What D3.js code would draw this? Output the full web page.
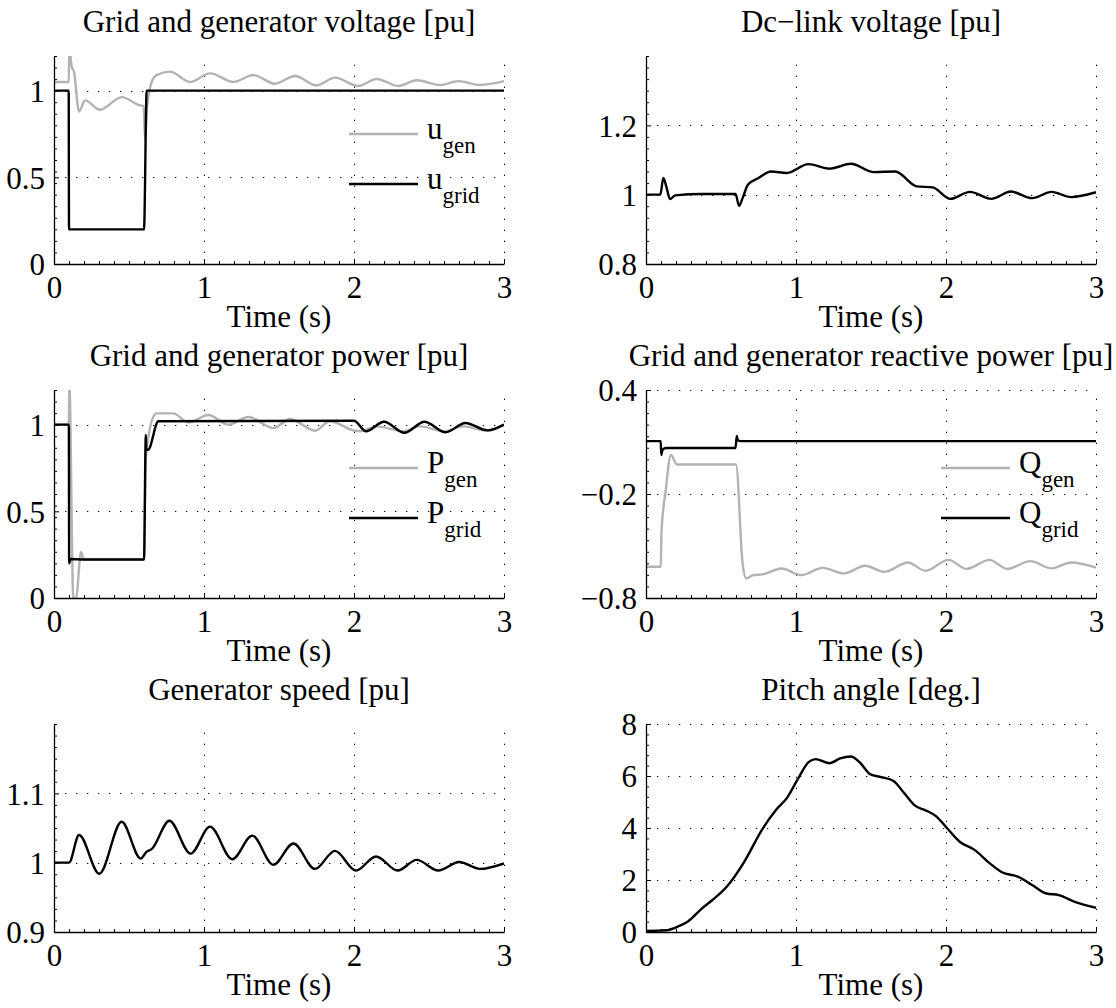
<!DOCTYPE html>
<html><head><meta charset="utf-8">
<script src="https://cdn.jsdelivr.net/npm/d3@7"></script>
<style>
body{margin:0;background:#fff}
text{font-family:"Liberation Serif","Times New Roman",serif;fill:#000}
</style>
</head><body>
<svg id="c" width="1116" height="1008" xmlns="http://www.w3.org/2000/svg"></svg>
<script>
// ---------------- data ----------------
const timeTicks = [0, 1, 2, 3];
const timeTickLabels = ["0", "1", "2", "3"];

// Grid and generator voltage
const voltageTicks = [0, 0.5, 1];
const voltageTickLabels = ["0", "0.5", "1"];
const uGenT = [0, 0.098, 0.102, 0.118, 0.133, 0.167, 0.207, 0.307, 0.451, 0.573, 0.598, 0.607, 0.618, 0.651, 0.684, 0.773, 0.907, 1.04, 1.196, 1.329, 1.473, 1.607, 1.751, 1.873, 2.029, 2.151, 2.296, 2.418, 2.573, 2.696, 2.84, 3.0];
const uGenV = [1.05, 1.05, 1.25, 1.14, 1.11, 0.88, 0.944, 0.89, 0.963, 0.915, 0.91, 0.72, 0.88, 1.05, 1.09, 1.11, 1.05, 1.1, 1.05, 1.09, 1.04, 1.085, 1.03, 1.075, 1.027, 1.067, 1.027, 1.06, 1.033, 1.055, 1.033, 1.055];
const uGridT = [0, 0.098, 0.1, 0.6, 0.618, 3.0];
const uGridV = [1, 1, 0.2, 0.2, 1, 1];

// Dc-link voltage
const dcTicks = [0.8, 1, 1.2];
const dcTickLabels = ["0.8", "1", "1.2"];
const dcT = [0, 0.095, 0.116, 0.135, 0.16, 0.194, 0.372, 0.597, 0.62, 0.644, 0.68, 0.75, 0.833, 0.94, 1.082, 1.224, 1.366, 1.52, 1.662, 1.804, 1.911, 2.029, 2.16, 2.302, 2.432, 2.574, 2.704, 2.834, 3.0];
const dcV = [1.0, 1.0, 1.048, 1.024, 0.987, 0.998, 1.002, 1.002, 0.968, 0.99, 1.029, 1.048, 1.067, 1.0625, 1.088, 1.075, 1.089, 1.065, 1.067, 1.024, 1.021, 0.988, 1.008, 0.988, 1.009, 0.990, 1.008, 0.993, 1.007];

// Grid and generator power
const powerTicks = [0, 0.5, 1];
const powerTickLabels = ["0", "0.5", "1"];
const pGenT = [0, 0.099, 0.102, 0.129, 0.147, 0.18, 0.2, 0.6, 0.612, 0.64, 0.673, 0.684, 0.795, 0.895, 1.029, 1.162, 1.296, 1.462, 1.573, 1.74, 1.84, 1.996, 2.04, 2.151, 2.33, 2.44, 2.6, 2.73, 2.89, 3.0];
const pGenV = [1.0, 1.0, 1.25, 0.0, 0.0, 0.266, 0.222, 0.222, 0.8, 0.98, 1.06, 1.065, 1.065, 1.013, 1.056, 1.0, 1.044, 0.98, 1.033, 0.965, 1.02, 0.967, 0.962, 0.99, 0.962, 0.99, 0.962, 0.99, 0.965, 1.0];
const pGridT = [0, 0.099, 0.101, 0.11, 0.2, 0.6, 0.612, 0.616, 0.627, 0.696, 2.0, 2.08, 2.2, 2.336, 2.47, 2.61, 2.743, 2.89, 3.0];
const pGridV = [1.0, 1.0, 0.2, 0.225, 0.222, 0.222, 0.94, 0.86, 0.855, 1.02, 1.023, 0.962, 1.017, 0.953, 1.017, 0.956, 1.01, 0.967, 1.0];

// Grid and generator reactive power
const reactiveTicks = [-0.8, -0.2, 0.4];
const reactiveTickLabels = ["\u22120.8", "\u22120.2", "0.4"];
const qGenT = [0, 0.099, 0.103, 0.13, 0.166, 0.207, 0.6, 0.644, 0.668, 0.715, 0.774, 0.905, 1.035, 1.177, 1.319, 1.461, 1.591, 1.745, 1.864, 2.017, 2.136, 2.29, 2.408, 2.562, 2.704, 2.834, 3.0];
const qGenV = [-0.62, -0.62, -0.42, -0.19, 0.025, -0.03, -0.03, -0.6, -0.687, -0.668, -0.664, -0.63, -0.668, -0.626, -0.658, -0.614, -0.649, -0.595, -0.643, -0.58, -0.632, -0.58, -0.632, -0.587, -0.629, -0.595, -0.624];
const qGridT = [0, 0.098, 0.102, 0.11, 0.135, 0.597, 0.605, 0.612, 0.63, 3.0];
const qGridV = [0.105, 0.105, 0.025, 0.055, 0.065, 0.065, 0.135, 0.11, 0.105, 0.105];

// Generator speed
const speedTicks = [0.9, 1, 1.1];
const speedTickLabels = ["0.9", "1", "1.1"];
const speedT = [0, 0.1, 0.167, 0.302, 0.451, 0.578, 0.618, 0.651, 0.769, 0.911, 1.04, 1.189, 1.322, 1.462, 1.596, 1.74, 1.873, 2.013, 2.147, 2.291, 2.418, 2.562, 2.702, 2.84, 3.0];
const speedV = [1.0, 1.0, 1.04, 0.984, 1.059, 1.006, 1.016, 1.0195, 1.0605, 1.013, 1.052, 1.005, 1.039, 0.997, 1.0276, 0.991, 1.017, 0.9886, 1.009, 0.9886, 1.004, 0.9886, 1.001, 0.991, 0.999];

// Pitch angle
const pitchTicks = [0, 2, 4, 6, 8];
const pitchTickLabels = ["0", "2", "4", "6", "8"];
const pitchT = [0, 0.135, 0.206, 0.277, 0.372, 0.443, 0.538, 0.656, 0.774, 0.869, 0.94, 1.011, 1.082, 1.13, 1.224, 1.295, 1.366, 1.426, 1.497, 1.568, 1.65, 1.72, 1.793, 1.864, 1.935, 2.006, 2.089, 2.195, 2.29, 2.373, 2.479, 2.574, 2.669, 2.752, 2.858, 3.0];
const pitchV = [0.04, 0.065, 0.19, 0.39, 0.9, 1.23, 1.74, 2.71, 3.94, 4.71, 5.16, 5.87, 6.52, 6.65, 6.49, 6.68, 6.75, 6.52, 6.06, 5.96, 5.81, 5.35, 4.86, 4.68, 4.45, 4.0, 3.48, 3.14, 2.65, 2.30, 2.13, 1.81, 1.48, 1.42, 1.16, 0.93];

// ---------------- drawing ----------------
const GRAY = "#b3b3b3", BLACK = "#000";
const FONT = 31, SUBFONT = 23;
const SERIF = '"Liberation Serif","Times New Roman",serif';
const colX = [54, 646], rowTop = [56, 390, 724], W = 450, H = 208;

const panels = [
  {col:0,row:0,title:"Grid and generator voltage [pu]",yDom:[0,1.2],yTicks:voltageTicks,yLabels:voltageTickLabels,yMinor:1/15,
   series:[{t:uGenT,v:uGenV,c:GRAY},{t:uGridT,v:uGridV,c:BLACK}],
   legend:[{b:"u",s:"gen",c:GRAY},{b:"u",s:"grid",c:BLACK}]},
  {col:1,row:0,title:"Dc\u2212link voltage [pu]",yDom:[0.8,1.4],yTicks:dcTicks,yLabels:dcTickLabels,yMinor:1/30,
   series:[{t:dcT,v:dcV,c:BLACK}],legend:[]},
  {col:0,row:1,title:"Grid and generator power [pu]",yDom:[0,1.2],yTicks:powerTicks,yLabels:powerTickLabels,yMinor:1/15,
   series:[{t:pGenT,v:pGenV,c:GRAY},{t:pGridT,v:pGridV,c:BLACK}],
   legend:[{b:"P",s:"gen",c:GRAY},{b:"P",s:"grid",c:BLACK}]},
  {col:1,row:1,title:"Grid and generator reactive power [pu]",yDom:[-0.8,0.4],yTicks:reactiveTicks,yLabels:reactiveTickLabels,yMinor:1/15,
   series:[{t:qGenT,v:qGenV,c:GRAY},{t:qGridT,v:qGridV,c:BLACK}],
   legend:[{b:"Q",s:"gen",c:GRAY},{b:"Q",s:"grid",c:BLACK}]},
  {col:0,row:2,title:"Generator speed [pu]",yDom:[0.9,1.2],yTicks:speedTicks,yLabels:speedTickLabels,yMinor:1/60,
   series:[{t:speedT,v:speedV,c:BLACK}],legend:[]},
  {col:1,row:2,title:"Pitch angle [deg.]",yDom:[0,8],yTicks:pitchTicks,yLabels:pitchTickLabels,yMinor:0.4,
   series:[{t:pitchT,v:pitchV,c:BLACK}],legend:[]}
];

const svg = d3.select("#c");
svg.append("rect").attr("width",1116).attr("height",1008).attr("fill","#fff");

panels.forEach((p, i) => {
  const x0 = colX[p.col], top = rowTop[p.row];
  const g = svg.append("g").attr("transform", `translate(${x0},${top})`);
  const x = d3.scaleLinear().domain([0, 3]).range([0, W]);
  const y = d3.scaleLinear().domain(p.yDom).range([H, 0]);

  const cid = "clip" + i;
  g.append("clipPath").attr("id", cid).append("rect").attr("x", 0).attr("y", 0).attr("width", W).attr("height", H);

  // dotted grid
  const grid = g.append("g").attr("stroke", "#000").attr("stroke-width", 1).attr("stroke-dasharray", "1.3,9.7").attr("fill","none");
  timeTicks.filter(t => t > 0).forEach(t => {
    grid.append("line").attr("x1", Math.round(x(t)) + 0.5).attr("x2", Math.round(x(t)) + 0.5)
      .attr("y1", H).attr("y2", 0);
  });
  p.yTicks.filter(v => v > p.yDom[0] + 1e-9).forEach(v => {
    grid.append("line").attr("y1", Math.round(y(v)) + 0.5).attr("y2", Math.round(y(v)) + 0.5)
      .attr("x1", 0).attr("x2", W);
  });

  // minor ticks
  const eps = 1e-9;
  const xMinor = d3.range(0, 3 + eps, 0.1).filter(t => Math.abs(t - Math.round(t)) > 1e-6);
  const yMinor = d3.range(p.yDom[0], p.yDom[1] + eps, p.yMinor)
      .filter(v => !p.yTicks.some(tk => Math.abs(tk - v) < 1e-6));
  const mx = g.append("g").attr("transform", `translate(0,${H})`)
    .call(d3.axisBottom(x).tickValues(xMinor).tickSizeInner(-3).tickSizeOuter(0).tickFormat(""));
  mx.select(".domain").remove();
  const my = g.append("g")
    .call(d3.axisLeft(y).tickValues(yMinor).tickSizeInner(-3).tickSizeOuter(0).tickFormat(""));
  my.select(".domain").remove();

  // data lines
  const line = d3.line().x(d => x(d[0])).y(d => y(d[1])).curve(d3.curveMonotoneX);
  const lines = g.append("g").attr("clip-path", `url(#${cid})`);
  p.series.forEach(s => {
    const pts = s.t.map((t, k) => [t, s.v[k]]);
    lines.append("path").attr("d", line(pts)).attr("fill", "none")
      .attr("stroke", s.c).attr("stroke-width", 2.4).attr("stroke-linejoin", "round");
  });

  // axes
  const xa = g.append("g").attr("transform", `translate(0,${H})`)
    .call(d3.axisBottom(x).tickValues(timeTicks).tickFormat((d, k) => timeTickLabels[k])
      .tickSizeInner(-5).tickSizeOuter(0).tickPadding(12));
  const ya = g.append("g")
    .call(d3.axisLeft(y).tickValues(p.yTicks).tickFormat((d, k) => p.yLabels[k])
      .tickSizeInner(-5).tickSizeOuter(0).tickPadding(9));
  [xa, ya, mx, my].forEach(a => a.attr("font-family", SERIF));
  [xa, ya].forEach(a => {
    a.selectAll("text").style("font-family", SERIF)
      .style("font-size", FONT + "px").attr("fill", "#000");
    a.select(".domain").attr("stroke", "#000").attr("stroke-width", 1.3);
  });
  ya.selectAll("text").attr("dy", "0.35em");
  g.selectAll(".tick line").attr("stroke", "#000");

  // title and x label
  g.append("text").attr("x", W / 2).attr("y", -24).attr("text-anchor", "middle")
    .style("font-size", FONT + "px").text(p.title);
  g.append("text").attr("x", W / 2).attr("y", H + 63).attr("text-anchor", "middle")
    .style("font-size", FONT + "px").text("Time (s)");

  // legend
  p.legend.forEach((L, k) => {
    const ly = [78, 128][k];
    g.append("line").attr("x1", 295).attr("x2", 364).attr("y1", ly).attr("y2", ly)
      .attr("stroke", L.c).attr("stroke-width", 2.4);
    const t = g.append("text").attr("x", 373).attr("y", ly + 5).style("font-size", FONT + "px");
    t.append("tspan").text(L.b);
    t.append("tspan").attr("dy", 14).style("font-size", SUBFONT + "px").text(L.s);
  });
});
</script>
</body></html>
